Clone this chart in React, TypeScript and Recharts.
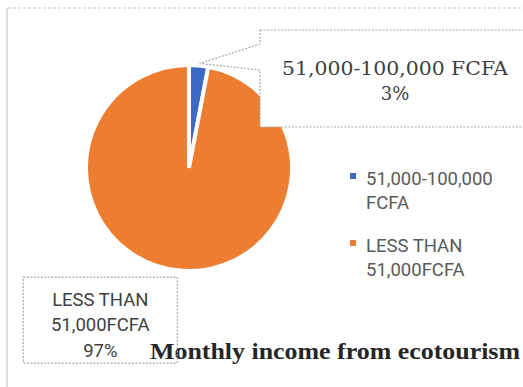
import { PieChart, Pie, Cell, Legend, Customized } from 'recharts';

const categories = ['51,000-100,000 FCFA', 'LESS THAN 51,000FCFA'];
const shares = [3, 97];
const colors = ['#3c69c6', '#ed7d31'];
const title = 'Monthly income from ecotourism';

const data = categories.map((name, i) => ({ name, value: shares[i] }));

const RAD = Math.PI / 180;
const sansFont = 'Roboto, "Liberation Sans", sans-serif';

const renderLabel = (props: any) => {
  const { cx, cy, midAngle, outerRadius, index, percent } = props;
  const tipX = cx + outerRadius * Math.cos(-midAngle * RAD);
  const tipY = cy + outerRadius * Math.sin(-midAngle * RAD);
  const pct = `${Math.round(percent * 100)}%`;

  if (index === 0) {
    // callout box up and to the right of the small slice
    const bx = 260;
    const by = 30;
    const bw = 280;
    const bh = 97;
    const pts = [
      [bx, by],
      [bx + bw, by],
      [bx + bw, by + bh],
      [bx, by + bh],
      [bx, by + 40],
      [tipX + 1, tipY - 2],
      [bx, by + 14],
    ]
      .map((p) => p.join(','))
      .join(' ');
    return (
      <g>
        <polygon points={pts} fill="#fff" stroke="#a6a6a6" strokeWidth={1.2} strokeDasharray="2 1.5" />
        <text
          x={395}
          y={75}
          textAnchor="middle"
          fontFamily='"DejaVu Serif", serif'
          fontSize={18}
          fill="#404040"
          textLength={226}
          lengthAdjust="spacingAndGlyphs"
        >
          {categories[0]}
        </text>
        <text x={395} y={100} textAnchor="middle" fontFamily='"DejaVu Serif", serif' fontSize={18} fill="#404040">
          {pct}
        </text>
      </g>
    );
  }

  const right = tipX - 2;
  const top = tipY + 6.5;
  const w = 154;
  const mid = right - w / 2;
  return (
    <g>
      <rect x={right - w} y={top} width={w} height={86} fill="none" stroke="#a6a6a6" strokeWidth={1.2} strokeDasharray="2 1.5" />
      <text x={mid} y={top + 29} textAnchor="middle" fontFamily={sansFont} fontSize={18.5} fill="#404040">
        LESS THAN
      </text>
      <text x={mid} y={top + 54} textAnchor="middle" fontFamily={sansFont} fontSize={18.5} fill="#404040">
        51,000FCFA
      </text>
      <text x={mid} y={top + 80} textAnchor="middle" fontFamily={sansFont} fontSize={18.5} fill="#404040">
        {pct}
      </text>
    </g>
  );
};

const renderLegend = (props: any) => {
  const { payload } = props;
  if (!payload || !Array.isArray(payload)) return null;
  return (
    <div style={{ fontFamily: sansFont, fontSize: 18.5, lineHeight: '24px', color: '#595959' }}>
      {payload.map((entry: any, index: number) => (
        <div key={`legend-${index}`} style={{ display: 'flex', alignItems: 'flex-start', marginBottom: 19 }}>
          <span
            style={{
              width: 6,
              height: 6,
              marginTop: 6,
              marginRight: 10,
              flex: 'none',
              backgroundColor: entry.color,
            }}
          />
          <span style={{ width: 145 }}>{entry.value}</span>
        </div>
      ))}
    </div>
  );
};

const Frame = () => (
  <g>
    <line x1={7} y1={8} x2={7} y2={387} stroke="#d0d0d0" strokeWidth={1.5} />
    <line x1={8} y1={8} x2={523} y2={8} stroke="#c4c4c4" strokeWidth={1.2} strokeDasharray="3 2" />
  </g>
);

const Title = () => (
  <text
    x={150}
    y={359}
    fontFamily='"Liberation Serif", serif'
    fontWeight="bold"
    fontSize={24}
    fill="#262626"
    textLength={370}
    lengthAdjust="spacingAndGlyphs"
  >
    {title}
  </text>
);

export default function App() {
  return (
    <div style={{ position: 'absolute', left: 0, top: 0, width: 523, height: 387, background: '#fff' }}>
      <PieChart width={523} height={387} margin={{ top: 0, right: 0, bottom: 0, left: 0 }}>
        <Customized component={Frame} />
        <Pie
          data={data}
          dataKey="value"
          nameKey="name"
          cx={189}
          cy={168}
          outerRadius={103}
          startAngle={90}
          endAngle={-270}
          stroke="#fff"
          strokeWidth={4}
          label={renderLabel}
          labelLine={false}
          isAnimationActive={false}
        >
          {data.map((entry, index) => (
            <Cell key={`cell-${index}`} fill={colors[index % colors.length]} />
          ))}
        </Pie>
        <Legend
          layout="vertical"
          align="right"
          verticalAlign="middle"
          content={renderLegend}
          wrapperStyle={{ position: 'absolute', left: 350, top: 167, width: 170, right: 'auto', bottom: 'auto' }}
        />
        <Customized component={Title} />
      </PieChart>
    </div>
  );
}
